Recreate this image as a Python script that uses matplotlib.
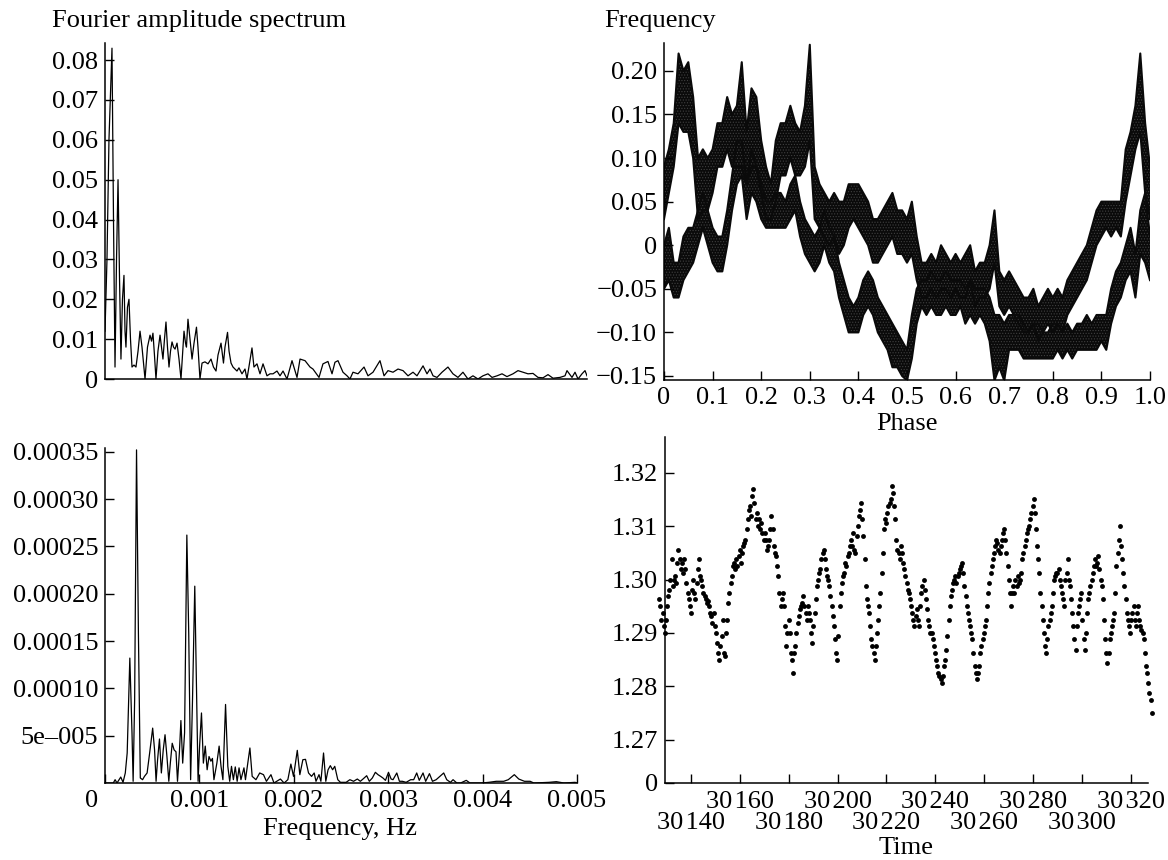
import numpy as np
import matplotlib
matplotlib.use("Agg")
import matplotlib.pyplot as plt
from matplotlib.transforms import ScaledTranslation

plt.rcParams['font.family'] = ['Liberation Serif', 'DejaVu Serif']
plt.rcParams['font.size'] = 19
plt.rcParams['hatch.linewidth'] = 0.5

# ---------------- data ----------------
# Fourier amplitude spectrum of the frequency variations (frequency in mHz)
tl_freq_mhz = [0, 0.021, 0.042, 0.074, 0.090, 0.106, 0.122, 0.138, 0.154, 0.169,
               0.185, 0.201, 0.212, 0.222, 0.238, 0.254, 0.270, 0.286, 0.307, 0.328,
               0.350, 0.371, 0.392, 0.424, 0.450, 0.477, 0.493, 0.508, 0.524, 0.540,
               0.561, 0.583, 0.599, 0.614, 0.630, 0.646, 0.662, 0.678, 0.694, 0.710,
               0.726, 0.742, 0.763, 0.784, 0.805, 0.821, 0.837, 0.853, 0.863, 0.879,
               0.900, 0.922, 0.943, 0.969, 0.985, 1.006, 1.028, 1.059, 1.091, 1.123,
               1.149, 1.176, 1.197, 1.229, 1.255, 1.271, 1.298, 1.314, 1.335, 1.356,
               1.398, 1.419, 1.451, 1.483, 1.504, 1.557, 1.578, 1.610, 1.642, 1.674,
               1.716, 1.748, 1.780, 1.822, 1.854, 1.886, 1.928, 1.981, 2.034, 2.066,
               2.119, 2.172, 2.203, 2.267, 2.309, 2.362, 2.405, 2.436, 2.468, 2.521,
               2.564, 2.595, 2.627, 2.680, 2.744, 2.786, 2.839, 2.913, 2.956, 2.998,
               3.051, 3.104, 3.157, 3.210, 3.263, 3.305, 3.369, 3.411, 3.443, 3.475,
               3.517, 3.570, 3.633, 3.686, 3.739, 3.792, 3.845, 3.898, 3.951, 4.004,
               4.057, 4.100, 4.153, 4.206, 4.258, 4.322, 4.375, 4.428, 4.481, 4.534,
               4.587, 4.640, 4.693, 4.746, 4.820, 4.873, 4.894, 4.947, 4.979, 5.011,
               5.053, 5.085, 5.106]
tl_amp_1e3 = [12, 30, 60, 83, 40, 3, 30, 50, 25, 5,
              20, 26, 12, 8, 18, 20, 10, 3, 3.5, 3,
              7, 12, 8, 0, 8, 11, 9.5, 11.5, 6, 0,
              7, 11, 8, 5, 10, 14.3, 8, 3, 7, 9.3,
              8, 7.5, 9, 5, 0, 6, 12, 9, 8, 15,
              10, 5, 9, 13, 8, 0, 4, 4.3, 3.8, 5,
              3, 2, 6, 9, 4, 8, 11.7, 7, 4, 3,
              2.0, 2.8, 1.3, 2.5, 0, 7.8, 3, 3.8, 1.3, 3.8,
              0.8, 1.3, 1.3, 2.0, 0.8, 2.0, 0, 4.6, 0.4, 5.0,
              4.6, 3.0, 2.5, 0.4, 3.8, 4.4, 1.3, 4.2, 4.6, 1.7,
              0.8, 0, 1.7, 1.3, 3.0, 0.8, 1.7, 4.6, 0.8, 2.1,
              1.7, 2.5, 2.1, 0.8, 1.7, 0.8, 3.3, 1.3, 2.5, 0.8,
              0.4, 1.7, 3.0, 1.3, 0.4, 1.7, 0, 0.8, 0, 0.8,
              1.3, 0.4, 0.8, 1.3, 0.6, 1.3, 2.1, 1.7, 1.3, 1.4,
              0.4, 0.3, 1.1, 0.2, 0.4, 0.8, 2.1, 0.4, 1.7, 0,
              1.3, 2.1, 0.8]

# Frequency versus pulsation phase: two passes, each given as a band (low/high edge)
phase_grid = np.round(np.arange(0, 1.001, 0.01), 2)
upper_lo = [0.03, 0.06, 0.09, 0.14, 0.13, 0.13, 0.10, 0.03, 0.04, 0.04,
            0.06, 0.09, 0.09, 0.11, 0.09, 0.09, 0.09, 0.07, 0.09, 0.09,
            0.06, 0.03, 0.03, 0.05, 0.08, 0.08, 0.10, 0.08, 0.08, 0.09,
            0.12, 0.03, 0.02, 0.01, 0.00, 0.01, -0.01, 0.00, 0.02, 0.03,
            0.02, 0.01, 0.00, -0.02, -0.02, -0.01, 0.00, 0.01, -0.01, -0.01,
            -0.02, -0.01, -0.04, -0.06, -0.06, -0.05, -0.06, -0.05, -0.05, -0.06,
            -0.05, -0.06, -0.06, -0.04, -0.07, -0.06, -0.06, -0.05, -0.02, -0.07,
            -0.08, -0.07, -0.08, -0.09, -0.10, -0.10, -0.09, -0.11, -0.10, -0.09,
            -0.10, -0.09, -0.10, -0.08, -0.07, -0.06, -0.05, -0.04, -0.02, 0.00,
            0.01, 0.02, 0.01, 0.02, 0.01, 0.05, 0.08, 0.11, 0.13, 0.06,
            0.03]
upper_hi = [0.09, 0.11, 0.14, 0.22, 0.20, 0.21, 0.17, 0.10, 0.11, 0.10,
            0.11, 0.14, 0.14, 0.17, 0.15, 0.16, 0.21, 0.13, 0.18, 0.17,
            0.12, 0.09, 0.07, 0.12, 0.14, 0.14, 0.16, 0.14, 0.13, 0.16,
            0.23, 0.09, 0.07, 0.06, 0.05, 0.06, 0.05, 0.05, 0.07, 0.07,
            0.07, 0.06, 0.05, 0.03, 0.03, 0.04, 0.05, 0.06, 0.04, 0.04,
            0.03, 0.05, 0.01, -0.02, -0.02, -0.01, -0.02, 0.00, -0.01, -0.02,
            -0.01, -0.02, -0.01, 0.00, -0.03, -0.02, -0.02, 0.00, 0.04, -0.03,
            -0.04, -0.03, -0.04, -0.05, -0.06, -0.06, -0.05, -0.07, -0.06, -0.05,
            -0.06, -0.05, -0.06, -0.04, -0.03, -0.02, -0.01, 0.00, 0.02, 0.04,
            0.05, 0.05, 0.05, 0.05, 0.05, 0.11, 0.13, 0.16, 0.22, 0.14,
            0.09]
lower_lo = [-0.05, -0.04, -0.06, -0.06, -0.04, -0.03, -0.02, 0.00, 0.02, 0.00,
            -0.02, -0.03, -0.03, 0.00, 0.04, 0.07, 0.08, 0.03, 0.06, 0.05,
            0.03, 0.02, 0.02, 0.02, 0.02, 0.02, 0.03, 0.04, 0.01, -0.01,
            -0.02, -0.03, -0.02, 0.00, -0.02, -0.03, -0.06, -0.08, -0.10, -0.10,
            -0.10, -0.08, -0.07, -0.08, -0.10, -0.11, -0.12, -0.14, -0.14, -0.15,
            -0.155, -0.13, -0.09, -0.07, -0.08, -0.07, -0.08, -0.08, -0.07, -0.08,
            -0.08, -0.07, -0.09, -0.08, -0.09, -0.08, -0.09, -0.11, -0.155, -0.14,
            -0.155, -0.12, -0.12, -0.12, -0.13, -0.13, -0.13, -0.13, -0.13, -0.13,
            -0.13, -0.12, -0.13, -0.12, -0.13, -0.12, -0.12, -0.12, -0.12, -0.12,
            -0.11, -0.12, -0.09, -0.07, -0.06, -0.04, -0.03, -0.06, -0.01, -0.02,
            -0.04]
lower_hi = [0.00, 0.02, -0.02, -0.02, 0.01, 0.02, 0.02, 0.04, 0.06, 0.04,
            0.02, 0.01, 0.01, 0.04, 0.08, 0.12, 0.12, 0.07, 0.11, 0.09,
            0.07, 0.05, 0.05, 0.06, 0.06, 0.05, 0.07, 0.08, 0.05, 0.03,
            0.02, 0.01, 0.02, 0.04, 0.02, 0.01, -0.02, -0.04, -0.06, -0.07,
            -0.06, -0.04, -0.03, -0.04, -0.06, -0.07, -0.08, -0.09, -0.10, -0.11,
            -0.12, -0.08, -0.05, -0.04, -0.04, -0.03, -0.04, -0.04, -0.03, -0.04,
            -0.04, -0.04, -0.05, -0.04, -0.05, -0.05, -0.05, -0.06, -0.08, -0.08,
            -0.09, -0.08, -0.08, -0.08, -0.09, -0.10, -0.09, -0.09, -0.10, -0.10,
            -0.09, -0.09, -0.10, -0.09, -0.10, -0.09, -0.09, -0.08, -0.09, -0.08,
            -0.08, -0.08, -0.05, -0.03, -0.02, 0.00, 0.02, -0.01, 0.04, 0.06,
            0.01]

# Fourier amplitude spectrum of the light curve (frequency in mHz, amplitude in 1e-5)
bl_freq_mhz = [0, 0.088, 0.107, 0.127, 0.167, 0.191, 0.215, 0.235, 0.263, 0.286,
               0.298, 0.314, 0.334, 0.354, 0.374, 0.398, 0.418, 0.446, 0.473, 0.505,
               0.525, 0.541, 0.557, 0.577, 0.597, 0.617, 0.636, 0.656, 0.676, 0.692,
               0.712, 0.732, 0.752, 0.768, 0.788, 0.804, 0.823, 0.843, 0.867, 0.887,
               0.907, 0.927, 0.951, 0.971, 0.986, 1.002, 1.022, 1.042, 1.062, 1.082,
               1.102, 1.122, 1.138, 1.154, 1.185, 1.209, 1.229, 1.249, 1.277, 1.301,
               1.321, 1.340, 1.360, 1.380, 1.400, 1.420, 1.440, 1.472, 1.488, 1.512,
               1.535, 1.559, 1.599, 1.639, 1.679, 1.710, 1.758, 1.790, 1.858, 1.897,
               1.937, 1.969, 1.997, 2.037, 2.064, 2.096, 2.124, 2.156, 2.188, 2.216,
               2.235, 2.267, 2.287, 2.315, 2.339, 2.363, 2.387, 2.411, 2.434, 2.466,
               2.494, 2.554, 2.594, 2.633, 2.673, 2.705, 2.733, 2.772, 2.800, 2.832,
               2.864, 2.892, 2.920, 2.944, 2.971, 3.003, 3.031, 3.051, 3.091, 3.119,
               3.150, 3.190, 3.238, 3.270, 3.302, 3.329, 3.369, 3.397, 3.437, 3.469,
               3.508, 3.548, 3.588, 3.620, 3.660, 3.687, 3.727, 3.767, 3.827, 3.866,
               3.986, 4.065, 4.145, 4.224, 4.272, 4.336, 4.383, 4.443, 4.503, 4.543,
               4.702, 4.781, 4.861, 4.980, 5.000]
bl_amp_1e5 = [0, 0, 0.35, 0, 0.63, 0.07, 1.06, 3.17, 13.2, 5.28,
              0.18, 8.8, 35.2, 15.8, 0.53, 0.35, 0.7, 1.06, 3.17, 5.8,
              3.5, 0.18, 2.46, 4.65, 1.06, 3.5, 5.1, 2.8, 0.18, 2.1,
              4.2, 3.5, 3.3, 0.18, 3.2, 6.6, 2.1, 5.3, 26.2, 15.8,
              0.35, 8.8, 20.8, 8.8, 0.18, 3.9, 7.4, 2.1, 3.9, 1.4,
              2.8, 2.3, 2.6, 0.35, 2.1, 3.9, 1.76, 0.35, 8.3, 1.76,
              0.18, 1.76, 0.35, 1.7, 0.18, 1.6, 0.35, 1.6, 0.35, 2.1,
              3.7, 0.7, 0.35, 1.06, 0.88, 0.18, 0.88, 0, 0.42, 0,
              0.35, 2.0, 0.7, 3.45, 0.88, 2.46, 2.5, 1.06, 0.7, 1.06,
              0.18, 0.88, 0.18, 3.17, 0.18, 1.4, 1.83, 1.4, 1.76, 0.35,
              0.07, 0.07, 0.35, 0.18, 0.42, 0.18, 0.42, 0.77, 0.18, 0.53,
              1.13, 0.88, 0.7, 0.53, 0.28, 1.13, 0.42, 0.35, 1.06, 0.18,
              0.18, 0.07, 0.35, 0.35, 1.06, 0.28, 1.06, 0.18, 0.99, 0.18,
              0.35, 0.7, 1.06, 0.35, 0.07, 0.35, 0, 0, 0.28, 0,
              0, 0.07, 0.18, 0.18, 0.35, 0.88, 0.42, 0.18, 0.18, 0,
              0.07, 0.14, 0, 0.07, 0]

# Light curve: regularly sampled measurements between these times
br_time_start, br_time_end = 30127.0, 30328.5
br_values = [
    1.2963, 1.2950, 1.2925, 1.2938, 1.2913, 1.2900, 1.2925, 1.2950, 1.2969, 1.2981,
    1.3000, 1.3038, 1.2988, 1.3000, 1.3006, 1.2994, 1.3031, 1.3056, 1.3038, 1.3019,
    1.3031, 1.3013, 1.3038, 1.3019, 1.2994, 1.2975, 1.2963, 1.2950, 1.2938, 1.2981,
    1.3000, 1.2975, 1.2963, 1.2994, 1.3019, 1.3038, 1.3006, 1.3000, 1.2988, 1.2975,
    1.2969, 1.2963, 1.2956, 1.2959, 1.2950, 1.2938, 1.2931, 1.2919, 1.2938, 1.2913,
    1.2900, 1.2881, 1.2863, 1.2850, 1.2875, 1.2894, 1.2925, 1.2863, 1.2856, 1.2900,
    1.2925, 1.2956, 1.2975, 1.2994, 1.3006, 1.3025, 1.3031, 1.3019, 1.3038, 1.3025,
    1.3044, 1.3056, 1.3031, 1.3050, 1.3063, 1.3069, 1.3075, 1.3094, 1.3113, 1.3131,
    1.3138, 1.3119, 1.3156, 1.3169, 1.3144, 1.3113, 1.3125, 1.3100, 1.3113, 1.3094,
    1.3106, 1.3088, 1.3075, 1.3088, 1.3075, 1.3056, 1.3063, 1.3075, 1.3094, 1.3119,
    1.3094, 1.3063, 1.3050, 1.3044, 1.3025, 1.3006, 1.2975, 1.2950, 1.2963, 1.2975,
    1.2950, 1.2913, 1.2875, 1.2900, 1.2925, 1.2900, 1.2863, 1.2850, 1.2825, 1.2863,
    1.2875, 1.2900, 1.2919, 1.2931, 1.2944, 1.2950, 1.2956, 1.2969, 1.2950, 1.2938,
    1.2925, 1.2950, 1.2938, 1.2925, 1.2900, 1.2881, 1.2913, 1.2938, 1.2963, 1.2988,
    1.3000, 1.3013, 1.3019, 1.3038, 1.3050, 1.3056, 1.3038, 1.3019, 1.3006, 1.3000,
    1.2988, 1.2969, 1.2950, 1.2931, 1.2913, 1.2888, 1.2863, 1.2850, 1.2894, 1.2950,
    1.2975, 1.2994, 1.3006, 1.3013, 1.3031, 1.3025, 1.3044, 1.3050, 1.3063, 1.3075,
    1.3063, 1.3088, 1.3056, 1.3050, 1.3081, 1.3100, 1.3119, 1.3131, 1.3144, 1.3113,
    1.3081, 1.3038, 1.2988, 1.2963, 1.2950, 1.2938, 1.2913, 1.2888, 1.2875, 1.2863,
    1.2850, 1.2875, 1.2900, 1.2925, 1.2950, 1.2975, 1.3013, 1.3050, 1.3094, 1.3113,
    1.3106, 1.3125, 1.3138, 1.3144, 1.3150, 1.3175, 1.3163, 1.3138, 1.3113, 1.3075,
    1.3056, 1.3050, 1.3038, 1.3063, 1.3050, 1.3031, 1.3019, 1.3006, 1.2994, 1.2981,
    1.2975, 1.2963, 1.2950, 1.2938, 1.2925, 1.2913, 1.2931, 1.2944, 1.2925, 1.2913,
    1.2950, 1.2975, 1.2988, 1.3000, 1.2981, 1.2963, 1.2944, 1.2925, 1.2913, 1.2900,
    1.2900, 1.2888, 1.2875, 1.2863, 1.2850, 1.2838, 1.2825, 1.2819, 1.2813, 1.2806,
    1.2819, 1.2838, 1.2850, 1.2869, 1.2894, 1.2925, 1.2950, 1.2969, 1.2981, 1.2994,
    1.3000, 1.3006, 1.2994, 1.3006, 1.3013, 1.3019, 1.3025, 1.3031, 1.3013, 1.2988,
    1.2969, 1.2950, 1.2938, 1.2925, 1.2913, 1.2900, 1.2888, 1.2863, 1.2838, 1.2825,
    1.2813, 1.2825, 1.2838, 1.2863, 1.2875, 1.2888, 1.2900, 1.2913, 1.2925, 1.2950,
    1.2975, 1.2994, 1.3013, 1.3025, 1.3038, 1.3050, 1.3063, 1.3075, 1.3069, 1.3056,
    1.3050, 1.3063, 1.3075, 1.3088, 1.3094, 1.3075, 1.3050, 1.3025, 1.3000, 1.2975,
    1.2950, 1.2975, 1.2988, 1.2975, 1.3000, 1.2988, 1.3006, 1.2994, 1.3000, 1.3013,
    1.3038, 1.3050, 1.3063, 1.3075, 1.3088, 1.3094, 1.3100, 1.3113, 1.3125, 1.3138,
    1.3150, 1.3125, 1.3094, 1.3063, 1.3038, 1.3013, 1.2975, 1.2950, 1.2925, 1.2900,
    1.2875, 1.2863, 1.2888, 1.2913, 1.2925, 1.2938, 1.2950, 1.2975, 1.3000, 1.3006,
    1.3013, 1.3013, 1.3019, 1.3000, 1.2988, 1.2975, 1.2963, 1.2950, 1.3000, 1.3013,
    1.3038, 1.3000, 1.2988, 1.2963, 1.2938, 1.2913, 1.2888, 1.2869, 1.2913, 1.2938,
    1.2950, 1.2963, 1.2975, 1.2925, 1.2888, 1.2869, 1.2900, 1.2938, 1.2963, 1.2975,
    1.2988, 1.3000, 1.3013, 1.3025, 1.3038, 1.3025, 1.3031, 1.3044, 1.3019, 1.3000,
    1.2988, 1.2963, 1.2925, 1.2888, 1.2863, 1.2844, 1.2863, 1.2888, 1.2900, 1.2913,
    1.2925, 1.2938, 1.2975, 1.3025, 1.3050, 1.3075, 1.3100, 1.3063, 1.3038, 1.3013,
    1.2988, 1.2963, 1.2938, 1.2925, 1.2913, 1.2900, 1.2925, 1.2938, 1.2950, 1.2925,
    1.2913, 1.2938, 1.2950, 1.2925, 1.2913, 1.2906, 1.2900, 1.2888, 1.2863, 1.2838,
    1.2825, 1.2806, 1.2788, 1.2775, 1.2750]

phase_ticks = [0, 0.1, 0.2, 0.3, 0.4, 0.5, 0.6, 0.7, 0.8, 0.9, 1.0]
phase_labels = ["0", "0.1", "0.2", "0.3", "0.4", "0.5", "0.6", "0.7", "0.8", "0.9", "1.0"]
freq_ticks = [0.20, 0.15, 0.10, 0.05, 0, -0.05, -0.10, -0.15]
freq_labels = ["0.20", "0.15", "0.10", "0.05", "0", "\u22120.05", "\u22120.10", "\u22120.15"]
tl_ticks = [0, 0.01, 0.02, 0.03, 0.04, 0.05, 0.06, 0.07, 0.08]
tl_labels = ["0", "0.01", "0.02", "0.03", "0.04", "0.05", "0.06", "0.07", "0.08"]
bl_yticks = [5e-5, 1e-4, 1.5e-4, 2e-4, 2.5e-4, 3e-4, 3.5e-4]
bl_ylabels = ["5e\u2013005", "0.00010", "0.00015", "0.00020", "0.00025", "0.00030", "0.00035"]
bl_xticks = [0, 0.001, 0.002, 0.003, 0.004, 0.005]
bl_xlabels = ["0", "0.001", "0.002", "0.003", "0.004", "0.005"]
time_ticks = [30140, 30160, 30180, 30200, 30220, 30240, 30260, 30280, 30300, 30320]
br_yticks = [1.27, 1.28, 1.29, 1.30, 1.31, 1.32]
br_ylabels = ["1.27", "1.28", "1.29", "1.30", "1.31", "1.32"]

# ---------------- layout ----------------
W, H = 1168, 860
fig = plt.figure(figsize=(W / 100, H / 100), dpi=100)


def box(left, top, right, bottom):
    return [left / W, 1 - bottom / H, (right - left) / W, (bottom - top) / H]


def style(ax):
    for s in ("top", "right"):
        ax.spines[s].set_visible(False)
    for s in ("left", "bottom"):
        ax.spines[s].set_linewidth(1.1)
    ax.tick_params(direction="in", length=6.5, width=1.0, pad=5, labelsize=19)


ax_tl = fig.add_axes(box(105, 43, 587, 379))
ax_tr = fig.add_axes(box(664, 43, 1150, 380))
ax_bl = fig.add_axes(box(105, 448, 577, 783))
ax_br = fig.add_axes(box(665, 437, 1148, 783))
for a in (ax_tl, ax_tr, ax_bl, ax_br):
    style(a)

# top left: spectrum of the frequency variations
n = min(len(tl_freq_mhz), len(tl_amp_1e3))
ax_tl.plot(np.array(tl_freq_mhz[:n]) * 1e-3, np.array(tl_amp_1e3[:n]) * 1e-3,
           color="black", lw=0.9)
ax_tl.set_xlim(0, 5.106e-3)
ax_tl.set_ylim(0, 0.0843)
ax_tl.set_xticks([])
ax_tl.set_yticks(tl_ticks)
ax_tl.set_yticklabels(tl_labels)

# top right: frequency folded on phase; the dense run of measured points is
# drawn as a dark band with a faint stipple
for lo, hi in ((upper_lo, upper_hi), (lower_lo, lower_hi)):
    ax_tr.fill_between(phase_grid, lo, hi, facecolor="#0a0a0a",
                       edgecolor="#404040", hatch="......", lw=0)
    ax_tr.plot(phase_grid, lo, color="#0a0a0a", lw=1.5)
    ax_tr.plot(phase_grid, hi, color="#0a0a0a", lw=1.5)
ax_tr.set_xlim(0, 1.0)
ax_tr.set_ylim(-0.1546, 0.232)
ax_tr.set_xticks(phase_ticks)
ax_tr.set_xticklabels(phase_labels)
ax_tr.set_yticks(freq_ticks)
ax_tr.set_yticklabels(freq_labels)

# bottom left: spectrum of the light curve
n = min(len(bl_freq_mhz), len(bl_amp_1e5))
ax_bl.plot(np.array(bl_freq_mhz[:n]) * 1e-3, np.array(bl_amp_1e5[:n]) * 1e-5,
           color="black", lw=0.9)
ax_bl.set_xlim(0, 0.005)
ax_bl.set_ylim(0, 0.000354)
ax_bl.set_xticks(bl_xticks)
ax_bl.set_xticklabels(bl_xlabels)
ax_bl.set_yticks(bl_yticks)
ax_bl.set_yticklabels(bl_ylabels)
zero_lab = ax_bl.get_xticklabels()[0]
zero_lab.set_transform(zero_lab.get_transform() + ScaledTranslation(-0.13, 0, fig.dpi_scale_trans))

# bottom right: light curve with broken value axis (bottom marked 0)
br_time = np.linspace(br_time_start, br_time_end, len(br_values))
ax_br.plot(br_time, br_values, "o", color="black", ms=3.5, mew=0, clip_on=False)
br_bottom = 1.2619
ax_br.set_xlim(30129.4, 30327.0)
ax_br.set_ylim(br_bottom, 1.3267)
ax_br.set_yticks([br_bottom] + br_yticks)
ax_br.set_yticklabels(["0"] + br_ylabels)
ax_br.set_xticks(time_ticks)
ax_br.set_xticklabels([])
for i, t in enumerate(time_ticks):
    lab = f"{t // 1000}\u200a{t % 1000:03d}"
    dy = -40 if i % 2 == 0 else -19
    ax_br.annotate(lab, xy=(t, 0), xycoords=("data", "axes fraction"),
                   xytext=(0, dy), textcoords="offset pixels",
                   ha="center", va="center", fontsize=19)

# titles and axis names
fig.text(52 / W, 1 - 21 / H, "Fourier amplitude spectrum", ha="left", va="center", fontsize=19)
fig.text(604 / W, 1 - 21 / H, "Frequency", ha="left", va="center", fontsize=19)
fig.text(907 / W, 1 - 424 / H, "Phase", ha="center", va="center", fontsize=19)
fig.text(340 / W, 1 - 829 / H, "Frequency, Hz", ha="center", va="center", fontsize=19)
fig.text(906 / W, 1 - 848 / H, "Time", ha="center", va="center", fontsize=19)

fig.savefig("out.png", dpi=100)
